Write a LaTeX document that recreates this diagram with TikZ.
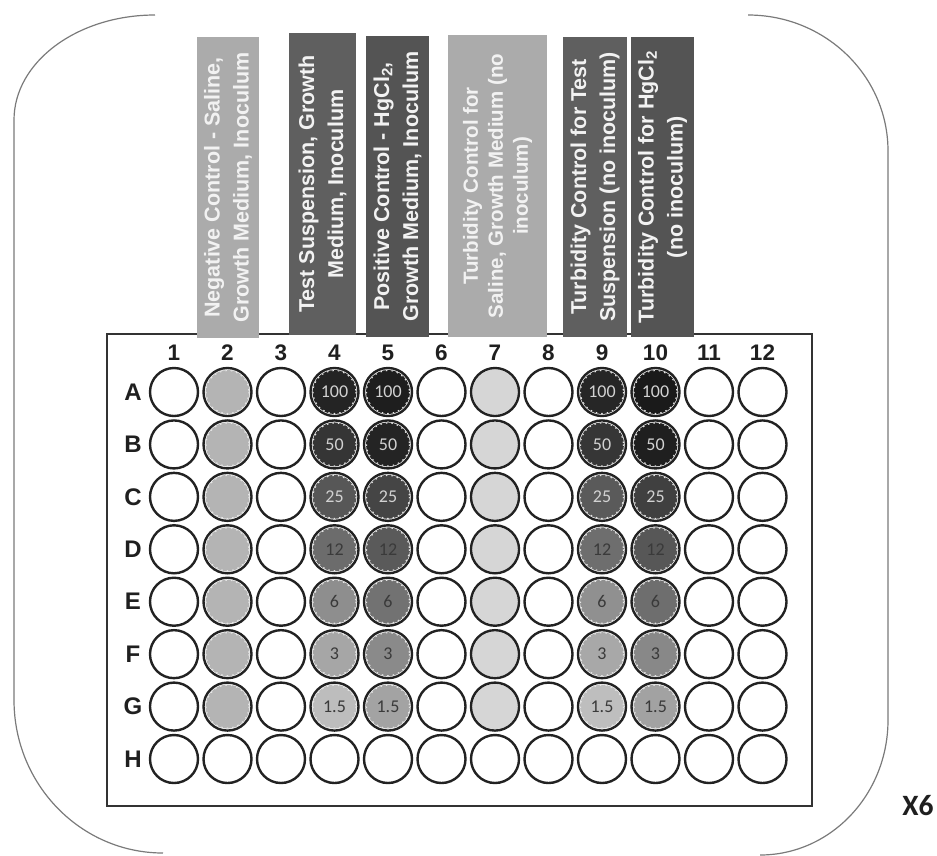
\documentclass[tikz,border=0pt]{standalone}
\usepackage{fontspec}
\setmainfont{Liberation Sans}
\newfontfamily\calibfont{Carlito}
\definecolor{ringcol}{HTML}{222222}
\definecolor{framecol}{HTML}{7A7A7A}
\definecolor{platecol}{HTML}{333333}
\definecolor{boxlight}{HTML}{ABABAB}
\definecolor{boxmid}{HTML}{5F5F5F}
\definecolor{boxdark}{HTML}{545454}
\definecolor{negfill}{HTML}{B4B4B4}
\definecolor{turbfill}{HTML}{D6D6D6}
\definecolor{numlight}{HTML}{D2D2D2}
\definecolor{numdark}{HTML}{3A3A3A}
% column 4
\definecolor{w4A}{HTML}{242424}\definecolor{w4B}{HTML}{353535}\definecolor{w4C}{HTML}{575757}
\definecolor{w4D}{HTML}{6C6C6C}\definecolor{w4E}{HTML}{8E8E8E}\definecolor{w4F}{HTML}{A6A6A6}\definecolor{w4G}{HTML}{BDBDBD}
% column 5
\definecolor{w5A}{HTML}{1E1E1E}\definecolor{w5B}{HTML}{242424}\definecolor{w5C}{HTML}{454545}
\definecolor{w5D}{HTML}{5A5A5A}\definecolor{w5E}{HTML}{727272}\definecolor{w5F}{HTML}{8A8A8A}\definecolor{w5G}{HTML}{A3A3A3}
% column 9
\definecolor{w9A}{HTML}{262626}\definecolor{w9B}{HTML}{363636}\definecolor{w9C}{HTML}{5A5A5A}
\definecolor{w9D}{HTML}{6E6E6E}\definecolor{w9E}{HTML}{909090}\definecolor{w9F}{HTML}{A8A8A8}\definecolor{w9G}{HTML}{BEBEBE}
% column 10
\definecolor{w10A}{HTML}{1A1A1A}\definecolor{w10B}{HTML}{1F1F1F}\definecolor{w10C}{HTML}{404040}
\definecolor{w10D}{HTML}{575757}\definecolor{w10E}{HTML}{6E6E6E}\definecolor{w10F}{HTML}{888888}\definecolor{w10G}{HTML}{A2A2A2}
\begin{document}
\begin{tikzpicture}[x=1pt,y=-1pt,
  well/.style={circle, draw=ringcol, line width=2.4pt, minimum size=48pt, inner sep=0pt},
  axislbl/.style={font=\bfseries\fontsize{22.5}{22.5}\selectfont, text=black!88, inner sep=0pt},
  rowlbl/.style={font=\bfseries\fontsize{24}{24}\selectfont, text=black!88, inner sep=0pt},
  labelbox/.style={rotate=90, inner sep=0pt, text=white!95!black, align=center,
    font=\bfseries\fontsize{21.5}{29}\selectfont},
  wellnum/.style={font=\calibfont\fontsize{18}{18}\selectfont, inner sep=0pt},
  framearc/.style={draw=framecol, line width=1.2pt},
  blobedge/.style={draw=white!90!black, line width=1.1pt, dash pattern=on 1.5pt off 4pt}
]
\useasboundingbox (0,0) rectangle (937,855);

% outer rounded frame (corners and sides only)
\draw[framearc] (155,15) arc[start angle=270, end angle=180, x radius=141, y radius=105]
   -- (14,700) arc[start angle=180, end angle=90, x radius=149, y radius=153];
\draw[framearc] (748,15) arc[start angle=270, end angle=360, x radius=140, y radius=136]
   -- (888,720) arc[start angle=0, end angle=90, x radius=128, y radius=135];

% plate
\node[draw=platecol, line width=2pt, minimum width=705pt, minimum height=472pt, inner sep=0pt] (plate) at (459.5,570) {};

% label boxes
\node[labelbox, fill=boxlight, minimum width=301pt, minimum height=62pt] (L1) at (228,187.5)
  {Negative Control - Saline,\\Growth Medium, Inoculum};
\node[labelbox, fill=boxmid, minimum width=302pt, minimum height=67pt] (L2) at (322.5,184)
  {Test Suspension, Growth\\Medium, Inoculum};
\node[labelbox, fill=boxdark, minimum width=301pt, minimum height=63pt] (L3) at (397.5,186.5)
  {Positive Control - HgCl\textsubscript{2},\\Growth Medium, Inoculum};
\node[labelbox, fill=boxlight, minimum width=302pt, minimum height=99pt,
  font=\bfseries\fontsize{20.5}{25}\selectfont] (L4) at (497.5,186)
  {Turbidity Control for\\Saline, Growth Medium (no\\inoculum)};
\node[labelbox, fill=boxmid, minimum width=300pt, minimum height=64pt] (L5) at (595,187)
  {Turbidity Control for Test\\Suspension (no inoculum)};
\node[labelbox, fill=boxdark, minimum width=300pt, minimum height=63pt] (L6) at (662.5,187)
  {Turbidity Control for HgCl\textsubscript{2}\\(no inoculum)};

% column numbers
\foreach \c in {1,...,12}
  \node[axislbl] (col\c) at ({174+(\c-1)*53.5},353) {\c};
% row letters
\foreach \r [count=\i] in {A,B,C,D,E,F,G,H}
  \node[rowlbl] (row\r) at (133,{392+(\i-1)*52.43}) {\r};

% fills: negative control (col 2) and turbidity control (col 7)
\foreach \r [count=\i] in {A,B,C,D,E,F,G} {
  \fill[negfill] ({174+53.5},{392+(\i-1)*52.43}) circle[radius=22];
  \draw[blobedge] ({174+53.5},{392+(\i-1)*52.43}) circle[radius=21.5];
  \fill[turbfill] ({174+6*53.5},{392+(\i-1)*52.43}) circle[radius=22.5];
}
% dilution series fills
\foreach \c in {4,5,9,10}
  \foreach \r [count=\i] in {A,B,C,D,E,F,G} {
    \fill[w\c\r] ({174+(\c-1)*53.5},{392+(\i-1)*52.43}) circle[radius=22];
    \draw[blobedge] ({174+(\c-1)*53.5},{392+(\i-1)*52.43}) circle[radius=21.5];
  }

% wells
\foreach \r [count=\i] in {A,B,C,D,E,F,G,H}
  \foreach \c in {1,...,12}
    \node[well] (w\r\c) at ({174+(\c-1)*53.5},{392+(\i-1)*52.43}) {};

% numbers in wells
\foreach \c in {4,5,9,10}
  \foreach \r/\n/\tc in {A/100/numlight, B/50/numlight, C/25/numlight, D/12/numdark,
                         E/6/numdark, F/3/numdark, G/1.5/numdark}
    \node[wellnum, text=\tc] (n\r\c) at (w\r\c) {\n};

% replicate mark
\node[font=\calibfont\bfseries\fontsize{29.5}{29.5}\selectfont, text=black!88, inner sep=0pt] (rep) at (918,805.5) {X6};
\end{tikzpicture}
\end{document}
